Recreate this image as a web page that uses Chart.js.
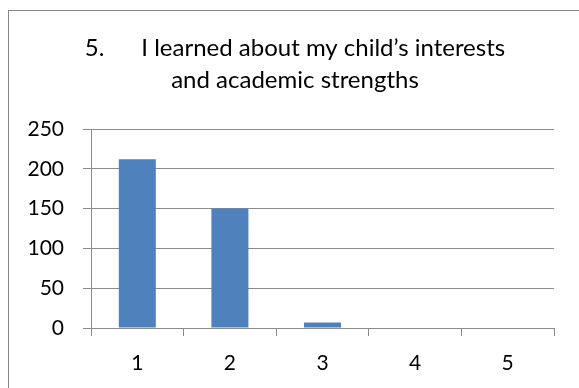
<!DOCTYPE html>
<html>
<head>
<meta charset="utf-8">
<script src="https://cdn.jsdelivr.net/npm/chart.js@4/dist/chart.umd.min.js"></script>
<style>
  html, body { margin: 0; padding: 0; background: #fff; overflow: hidden; }
  #frame { position: absolute; left: 8px; top: 10px; width: 700px; height: 500px;
           border-left: 1px solid #868686; border-top: 1px solid #868686; }
  #wrap { position: absolute; left: 0; top: 0; width: 579px; height: 388px; }
</style>
</head>
<body>
<div id="frame"></div>
<div id="wrap"><canvas id="chart"></canvas></div>
<script>
const categories = ["1", "2", "3", "4", "5"];
const responses = [212, 150, 7, 0, 0];
const yTicks = [0, 50, 100, 150, 200, 250];
const titleLines = ["5.      I learned about my child\u2019s interests", "and academic strengths"];

const gridGray = "#8c8c8c";
const font = "Lato";

// title is centred a bit right of the canvas middle in the original
const shiftTitle = {
  id: "shiftTitle",
  afterLayout(chart) {
    if (chart.titleBlock) chart.titleBlock.left = 36;
  }
};

new Chart(document.getElementById("chart"), {
  type: "bar",
  data: {
    labels: categories,
    datasets: [{
      data: responses,
      backgroundColor: "#4f81bd",
      borderWidth: 0,
      barPercentage: 0.4,
      categoryPercentage: 1
    }]
  },
  options: {
    responsive: true,
    maintainAspectRatio: false,
    animation: false,
    layout: { padding: { left: 0, right: 25, top: 0, bottom: 0 } },
    plugins: {
      legend: { display: false },
      tooltip: { enabled: false },
      title: {
        display: true,
        text: titleLines,
        color: "#000",
        font: { family: font, size: 24, weight: "normal", lineHeight: "32px" },
        padding: { top: 32, bottom: 33 }
      }
    },
    scales: {
      x: {
        grid: { display: true, drawOnChartArea: false, drawTicks: true, tickLength: 8, color: gridGray, offset: true },
        border: { display: true, color: gridGray, width: 1 },
        ticks: { color: "#000", font: { family: font, size: 21 }, padding: 15 },
        afterFit: (scale) => { scale.height = 60; }
      },
      y: {
        min: 0,
        max: 250,
        afterBuildTicks: (scale) => { scale.ticks = yTicks.map(v => ({ value: v })); },
        grid: { color: gridGray, tickLength: 8, drawTicks: true },
        border: { display: true, color: gridGray, width: 1 },
        ticks: { color: "#000", font: { family: font, size: 21 }, padding: 19 },
        afterFit: (scale) => { scale.width = 91; }
      }
    }
  },
  plugins: [shiftTitle]
});
</script>
</body>
</html>
